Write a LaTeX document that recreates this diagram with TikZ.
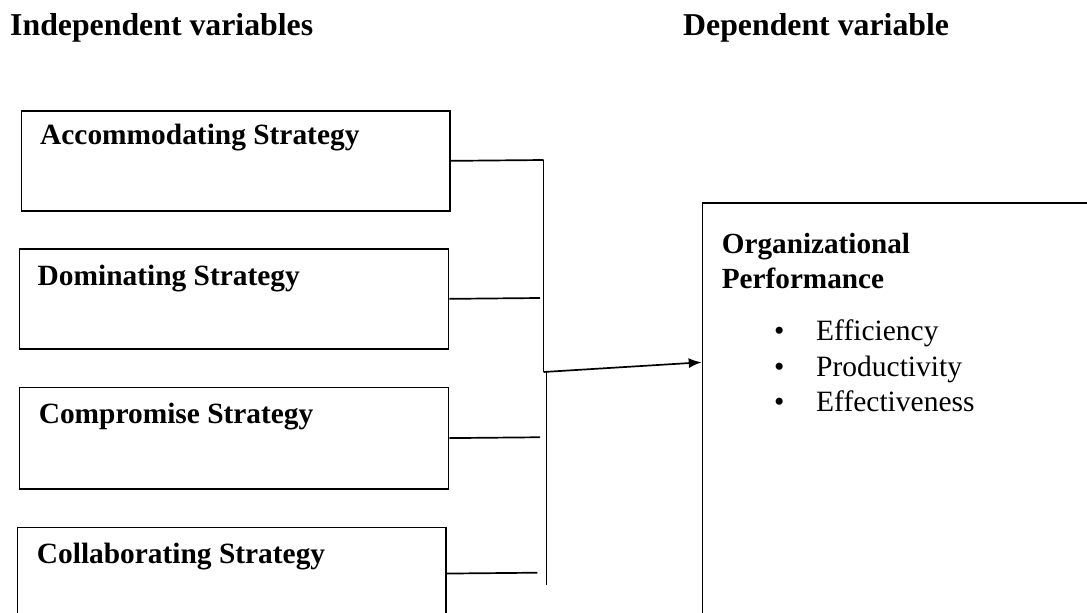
\documentclass[tikz,border=0pt]{standalone}
\usepackage{fontspec}
\setmainfont{Liberation Serif}
\usetikzlibrary{arrows.meta}
\begin{document}
\begin{tikzpicture}[x=1pt,y=-1pt,
  box/.style={draw, line width=1.7pt, inner sep=0pt, anchor=north west},
  lbl/.style={anchor=base west, inner sep=0pt, font=\bfseries\fontsize{29.4}{34}\selectfont},
  ttl/.style={anchor=base west, inner sep=0pt, font=\bfseries\fontsize{31.8}{36}\selectfont},
  hdr/.style={anchor=base west, inner sep=0pt, font=\bfseries\fontsize{29.2}{34}\selectfont},
  itm/.style={anchor=base west, inner sep=0pt, font=\fontsize{29.5}{34}\selectfont},
  conn/.style={line width=1.7pt}]
\useasboundingbox (0,0) rectangle (1087,613);
\clip (0,0) rectangle (1087,613);
% titles
\node[ttl] (title1) at (10,35) {Independent variables};
\node[ttl] (title2) at (683,35) {Dependent variable};
% boxes
\node[box, minimum width=428.6pt, minimum height=100pt] (b1) at (20.7,110) {};
\node[box, minimum width=429pt, minimum height=100pt] (b2) at (18.6,248) {};
\node[box, minimum width=429pt, minimum height=101.5pt] (b3) at (18.6,386.5) {};
\node[box, minimum width=428.6pt, minimum height=92pt] (b4) at (16.7,526.7) {};
\node[box, minimum width=420pt, minimum height=450pt] (rb) at (701.7,202.3) {};
% labels
\node[lbl] (l1) at (40,144) {Accommodating Strategy};
\node[lbl] (l2) at (37.5,285) {Dominating Strategy};
\node[lbl] (l3) at (38.6,423) {Compromise Strategy};
\node[lbl] (l4) at (36.7,563) {Collaborating Strategy};
\node[hdr] (o1) at (721.7,253.3) {Organizational};
\node[hdr] (o2) at (721.7,288.3) {Performance};
\node[itm] (d1) at (774,340) {•};
\node[itm] (d2) at (774,376.7) {•};
\node[itm] (d3) at (774,411.7) {•};
\node[itm] (i1) at (816,340) {Efficiency};
\node[itm] (i2) at (816,376.7) {Productivity};
\node[itm] (i3) at (816,411.7) {Effectiveness};
% connector coordinates
\coordinate (vtop) at (543.5,160);
\coordinate (vj) at (543.5,372);
\coordinate (vj2) at (546.5,372);
\coordinate (vbot) at (546.5,585);
\coordinate (e2) at (540,298);
\coordinate (e3) at (540,437.25);
\coordinate (e4) at (537.3,572.7);
\coordinate (ah) at (701.7,362.3);
% connectors
\draw[conn] (b1.east) -- (vtop);
\draw[conn] (b2.east) -- (e2);
\draw[conn] (b3.east) -- (e3);
\draw[conn] (b4.east) -- (e4);
\draw[conn] (vtop) -- (vj);
\draw[conn] (vj2) -- (vbot);
\draw[conn, -{Latex[length=13pt,width=10pt]}] (vj) -- (ah);
\end{tikzpicture}
\end{document}
